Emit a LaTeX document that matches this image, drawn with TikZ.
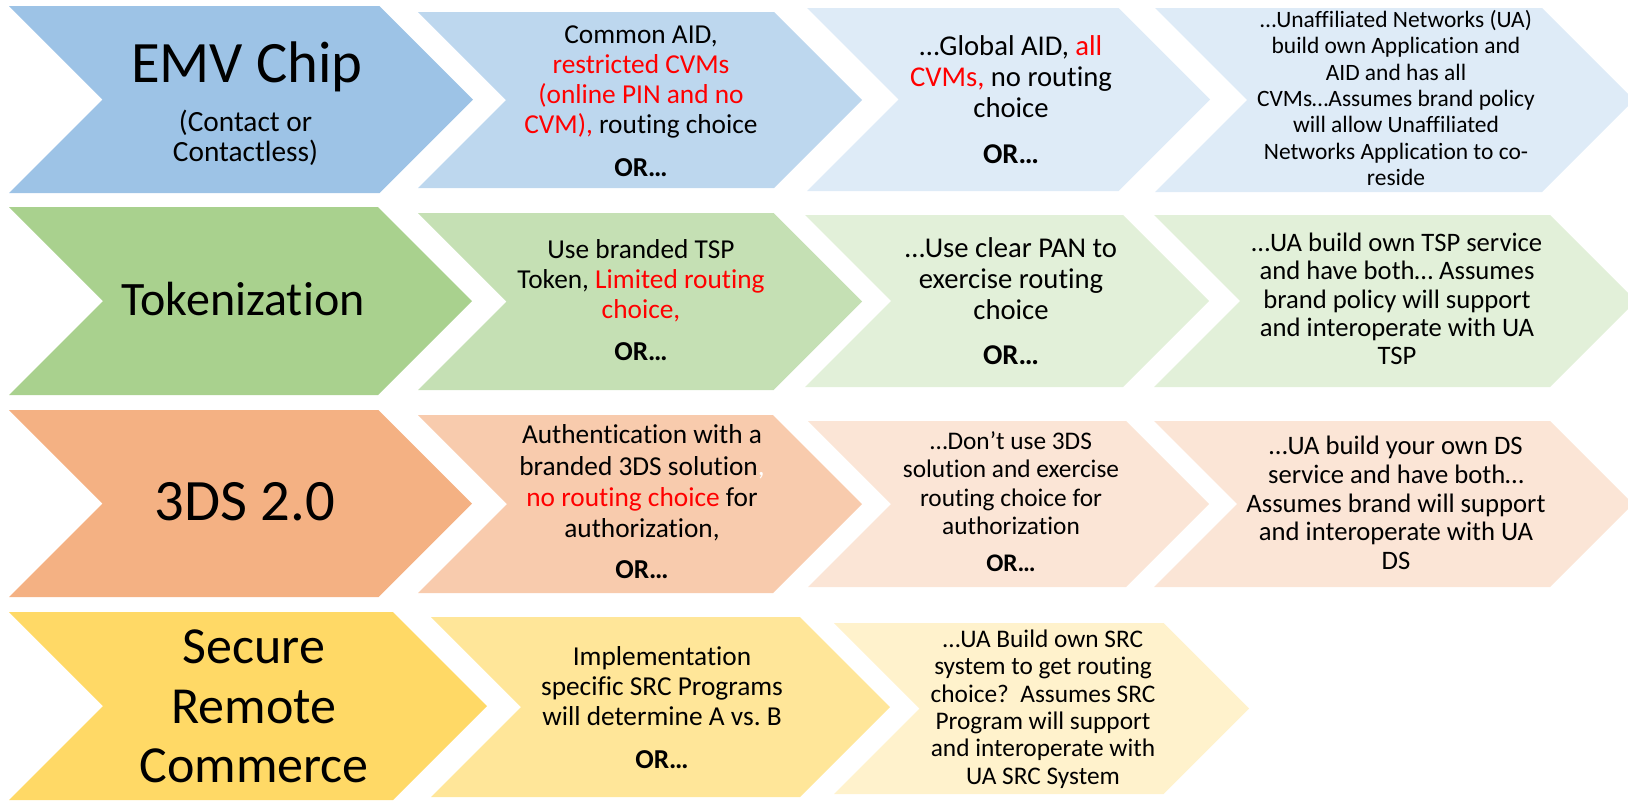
\documentclass[tikz,border=0pt]{standalone}
\usepackage{fontspec}
\setmainfont{Carlito}[Ligatures=NoCommon]
\usepackage{tikz}

\definecolor{emvA}{HTML}{9DC3E6}
\definecolor{emvB}{HTML}{BDD7EE}
\definecolor{emvC}{HTML}{DEEBF7}
\definecolor{tokA}{HTML}{A9D18E}
\definecolor{tokB}{HTML}{C5E0B4}
\definecolor{tokC}{HTML}{E2F0D9}
\definecolor{tdsA}{HTML}{F4B183}
\definecolor{tdsB}{HTML}{F8CBAD}
\definecolor{tdsC}{HTML}{FBE5D6}
\definecolor{srcA}{HTML}{FFD966}
\definecolor{srcB}{HTML}{FFE699}
\definecolor{srcC}{HTML}{FFF2CC}
\definecolor{hot}{HTML}{FF0000}

\tikzset{
  head/.style={anchor=base,inner sep=0pt},
  body/.style={align=center,inner sep=0pt},
}

\begin{document}
\frenchspacing
\begin{tikzpicture}[line join=miter,x=0.75pt,y=-0.75pt]
\useasboundingbox (0,0) rectangle (1628,801);
\clip (0,0) rectangle (1628,801);

% EMV chip row
\fill[emvA] (9,6) -- (379.5,6) -- (473,99.5) -- (379.5,193) -- (9,193) -- (102.5,99.5) -- cycle;
\fill[emvB] (418,12) -- (774,12) -- (862,100) -- (774,188) -- (418,188) -- (506,100) -- cycle;
\fill[emvC] (807,8) -- (1118.5,8) -- (1210,99.5) -- (1118.5,191) -- (807,191) -- (898.5,99.5) -- cycle;
\fill[emvC] (1155,8) -- (1542,8) -- (1634,100) -- (1542,192) -- (1155,192) -- (1247,100) -- cycle;

% tokenization row
\fill[tokA] (9,207) -- (378,207) -- (472,301) -- (378,395) -- (9,395) -- (103,301) -- cycle;
\fill[tokB] (418,213) -- (773.5,213) -- (862,301.5) -- (773.5,390) -- (418,390) -- (506.5,301.5) -- cycle;
\fill[tokC] (805,215) -- (1123,215) -- (1209,301) -- (1123,387) -- (805,387) -- (891,301) -- cycle;
\fill[tokC] (1154,215) -- (1550,215) -- (1636,301) -- (1550,387) -- (1154,387) -- (1240,301) -- cycle;

% 3DS row
\fill[tdsA] (9,410) -- (378.5,410) -- (472,503.5) -- (378.5,597) -- (9,597) -- (102.5,503.5) -- cycle;
\fill[tdsB] (418,415) -- (773,415) -- (862,504) -- (773,593) -- (418,593) -- (507,504) -- cycle;
\fill[tdsC] (808,421) -- (1126,421) -- (1209,504) -- (1126,587) -- (808,587) -- (891,504) -- cycle;
\fill[tdsC] (1154,421) -- (1550,421) -- (1633,504) -- (1550,587) -- (1154,587) -- (1237,504) -- cycle;

% SRC row
\fill[srcA] (9,612) -- (393,612) -- (487,706) -- (393,800) -- (9,800) -- (103,706) -- cycle;
\fill[srcB] (431,617) -- (800,617) -- (890,707) -- (800,797) -- (431,797) -- (521,707) -- cycle;
\fill[srcC] (834,623) -- (1163.5,623) -- (1249,708.5) -- (1163.5,794) -- (834,794) -- (919.5,708.5) -- cycle;

\node[head,font=\fontsize{44}{44}\selectfont] (emvHead) at (247,82) {EMV Chip};
\node[body,font=\fontsize{22}{22.5}\selectfont] (emvSub) at (245.5,138) {(Contact or\\Contactless)};
\node[body,font=\fontsize{20.5}{22.5}\selectfont] (emvCommon) at (641,101.5) {Common AID,\\\textcolor{hot}{restricted CVMs}\\\textcolor{hot}{(online PIN and no}\\\textcolor{hot}{CVM),} routing choice\\[10pt]\textbf{OR…}};
\node[body,font=\fontsize{21.5}{23.25}\selectfont] (emvGlobal) at (1011,99.5) {…Global AID, \textcolor{hot}{all}\\\textcolor{hot}{CVMs,} no routing\\choice\\[11pt]\textbf{OR…}};
\node[body,font=\fontsize{17.6}{19.8}\selectfont] (emvUA) at (1396,98) {…Unaffiliated Networks (UA)\\build own Application and\\AID and has all\\CVMs…Assumes brand policy\\will allow Unaffiliated\\Networks Application to co-\\reside};

\node[head,font=\fontsize{36}{36}\selectfont] (tokHead) at (243,315) {Tokenization};
\node[body,font=\fontsize{20.5}{22.5}\selectfont] (tokBrand) at (641,300) {Use branded TSP\\Token, \textcolor{hot}{Limited routing}\\\textcolor{hot}{choice,}\\[9pt]\textbf{OR…}};
\node[body,font=\fontsize{21.5}{23.25}\selectfont] (tokClear) at (1011,301) {…Use clear PAN to\\exercise routing\\choice\\[10.5pt]\textbf{OR…}};
\node[body,font=\fontsize{20}{21.25}\selectfont] (tokUA) at (1397,299) {…UA build own TSP service\\and have both… Assumes\\brand policy will support\\and interoperate with UA\\TSP};

\node[head,font=\fontsize{44}{44}\selectfont] (tdsHead) at (245,520) {3DS 2.0};
\node[body,font=\fontsize{20.5}{23.5}\selectfont] (tdsBrand) at (642,502) {Authentication with a\\branded 3DS solution\textcolor{white}{,}\\\textcolor{hot}{no routing choice} for\\authorization,\\[7.25pt]\textbf{OR…}};
\node[body,font=\fontsize{19}{21.4}\selectfont] (tdsNone) at (1011,501.5) {…Don’t use 3DS\\solution and exercise\\routing choice for\\authorization\\[6.35pt]\textbf{OR…}};
\node[body,font=\fontsize{20}{21.5}\selectfont] (tdsUA) at (1396,503) {…UA build your own DS\\service and have both…\\Assumes brand will support\\and interoperate with UA\\DS};

\node[body,font=\fontsize{39}{44.5}\selectfont] (srcHead) at (254,706.5) {Secure\\Remote\\Commerce};
\node[body,font=\fontsize{20.5}{22.5}\selectfont] (srcImpl) at (662,708) {Implementation\\specific SRC Programs\\will determine A vs. B\\[9.75pt]\textbf{OR…}};
\node[body,font=\fontsize{19}{20.5}\selectfont] (srcUA) at (1043,709) {…UA Build own SRC\\system to get routing\\choice?\ \ Assumes SRC\\Program will support\\and interoperate with\\UA SRC System};
\end{tikzpicture}
\end{document}
